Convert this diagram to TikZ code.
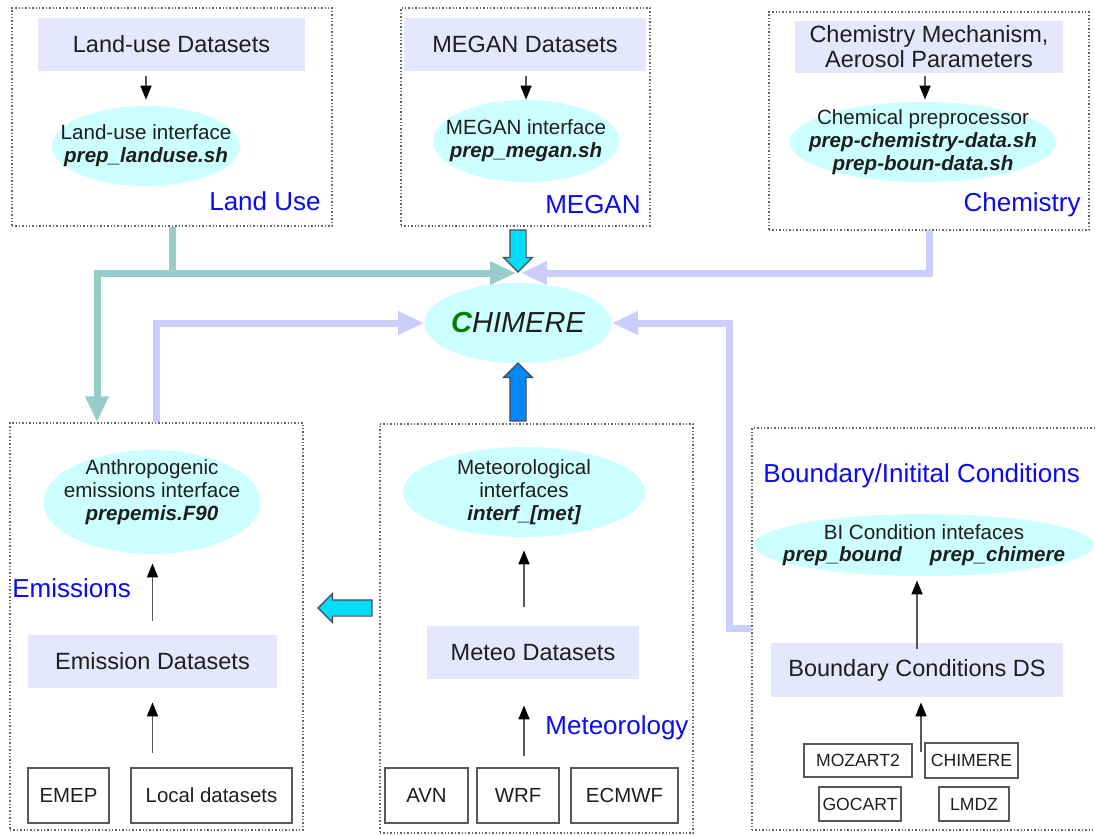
\documentclass[tikz,border=0pt]{standalone}
\usepackage{fontspec}
\setmainfont{Liberation Sans}
\usetikzlibrary{arrows.meta,shapes.geometric,shapes.arrows}

\definecolor{dsfill}{RGB}{230,230,252}
\definecolor{iffill}{RGB}{204,255,255}
\definecolor{lblue}{RGB}{10,10,245}
\definecolor{tealline}{RGB}{150,205,200}
\definecolor{lavline}{RGB}{204,204,255}
\definecolor{cyanarr}{RGB}{0,220,250}
\definecolor{bluearr}{RGB}{0,136,255}
\definecolor{cgreen}{RGB}{0,128,0}
\definecolor{txt}{RGB}{30,30,30}

\begin{document}
\begin{tikzpicture}[
  x=0.5pt, y=-0.5pt,
  grp/.style={draw=black!60, densely dotted, line width=0.7pt, inner sep=0},
  dset/.style={fill=dsfill, inner sep=0, align=center, text=txt, font=\fontsize{11.75}{12.5}\selectfont},
  iface/.style={ellipse, fill=iffill, inner sep=0},
  iftext/.style={align=center, inner sep=0, text=txt, font=\fontsize{10.3}{11.5}\selectfont},
  src/.style={draw=black!65, line width=1pt, inner sep=0, text=txt, font=\fontsize{10.2}{12}\selectfont},
  lbl/.style={inner sep=0, text=lblue, font=\fontsize{13}{15}\selectfont},
  arr/.style={draw=black!65, line width=0.8pt, -{Triangle[length=7pt,width=5.5pt,color=black]}},
  tline/.style={draw=tealline, line width=3.5pt, -{Triangle[length=13pt,width=11pt]}},
  lline/.style={draw=lavline, line width=3.5pt, -{Triangle[length=13pt,width=11pt]}},
  barr/.style={single arrow, draw=black!70, line width=0.6pt, inner xsep=0pt, inner ysep=3.75pt,
    single arrow head extend=3.25pt, single arrow tip angle=90}
]
\useasboundingbox (0,0) rectangle (1095,835);

% top row
\node[grp, minimum width=160pt, minimum height=109pt] (lubox) at (172,117) {};
\node[dset, minimum width=133.5pt, minimum height=26.5pt] (ludata) at (171.5,44.5) {Land-use Datasets};
\node[iface, minimum width=94pt, minimum height=40pt,
  label={[iftext]center:{Land-use interface\\{\bfseries\itshape prep\_landuse.sh}}}] (luif) at (146,146) {};
\node[lbl, anchor=east] (lulbl) at (321,201) {Land Use};

\node[grp, minimum width=124.5pt, minimum height=109pt] (megbox) at (525.5,117) {};
\node[dset, minimum width=121pt, minimum height=26.5pt] (megdata) at (525,44.5) {MEGAN Datasets};
\node[iface, minimum width=93pt, minimum height=41pt,
  label={[iftext]center:{MEGAN interface\\{\bfseries\itshape prep\_megan.sh}}}] (megif) at (526,141) {};
\node[lbl, anchor=east] (meglbl) at (641,205) {MEGAN};

\node[grp, minimum width=160pt, minimum height=109pt] (chbox) at (929,121) {};
\node[dset, minimum width=134pt, minimum height=26pt] (chdata) at (929,47)
  {Chemistry Mechanism,\\Aerosol Parameters};
\node[iface, minimum width=133pt, minimum height=40pt,
  label={[iftext]center:{Chemical preprocessor\\{\bfseries\itshape prep-chemistry-data.sh}\\{\bfseries\itshape prep-boun-data.sh}}}] (chif) at (923,142) {};
\node[lbl, anchor=east] (chlbl) at (1081,205) {Chemistry};

% model
\node[iface, minimum width=93.5pt, minimum height=40pt,
  label={[inner sep=0, text=txt, font=\fontsize{14.5}{16}\selectfont\itshape]center:{{\color{cgreen}\bfseries C}HIMERE}}] (chimere) at (518,323) {};

% emissions
\node[grp, minimum width=146.5pt, minimum height=203.5pt] (embox) at (156.5,626.5) {};
\node[iface, minimum width=108.5pt, minimum height=52pt,
  label={[iftext, yshift=5pt]center:{Anthropogenic\\emissions interface\\{\bfseries\itshape prepemis.F90}}}] (emif) at (152,502) {};
\node[lbl, anchor=west] (emlbl) at (12,588) {Emissions};
\node[dset, minimum width=124.5pt, minimum height=26.5pt] (emdata) at (152.5,661.5) {Emission Datasets};
\node[src, minimum width=40.5pt, minimum height=27.5pt] (emep) at (68.5,795.5) {EMEP};
\node[src, minimum width=80.5pt, minimum height=27.5pt] (local) at (211.5,795.5) {Local datasets};

% meteorology
\node[grp, minimum width=156.5pt, minimum height=204.5pt] (metbox) at (536.5,628.5) {};
\node[iface, minimum width=121pt, minimum height=45pt,
  label={[iftext]center:{Meteorological\\interfaces\\{\bfseries\itshape interf\_[met]}}}] (metif) at (524,492) {};
\node[dset, minimum width=106pt, minimum height=26.5pt] (metdata) at (533,652.5) {Meteo Datasets};
\node[lbl, anchor=west] (metlbl) at (545,728) {Meteorology};
\node[src, minimum width=41.5pt, minimum height=27.5pt] (avn) at (426.5,795.5) {AVN};
\node[src, minimum width=41pt, minimum height=27.5pt] (wrf) at (518,795.5) {WRF};
\node[src, minimum width=53.5pt, minimum height=27.5pt] (ecmwf) at (624.5,795.5) {ECMWF};

% boundary conditions
\node[grp, minimum width=174pt, minimum height=201pt] (bcbox) at (926,629) {};
\node[lbl, anchor=west] (bclbl) at (763,476) {Boundary/Initital Conditions};
\node[iface, minimum width=170pt, minimum height=31pt,
  label={[iftext, font=\fontsize{10.3}{11}\selectfont]center:{BI Condition intefaces\\{\bfseries\itshape prep\_bound}\hspace{14pt}{\bfseries\itshape prep\_chimere}}}] (bcif) at (924,545) {};
\node[dset, minimum width=146pt, minimum height=27pt] (bcdata) at (917,670) {Boundary Conditions DS};
\node[src, font=\fontsize{8.8}{10}\selectfont, minimum width=54pt, minimum height=16.5pt] (mozart) at (858,760.5) {MOZART2};
\node[src, font=\fontsize{8.8}{10}\selectfont, minimum width=46.5pt, minimum height=17.5pt] (chimsrc) at (971.5,760.5) {CHIMERE};
\node[src, font=\fontsize{8.8}{10}\selectfont, minimum width=41pt, minimum height=17pt] (gocart) at (860,804) {GOCART};
\node[src, font=\fontsize{8.8}{10}\selectfont, minimum width=35pt, minimum height=17pt] (lmdz) at (974,804) {LMDZ};

% inner arrows
\draw[arr, shorten <=2.5pt, shorten >=3pt] (luif.north |- ludata.south) -- (luif.north);
\draw[arr, shorten <=2.5pt] (megif.north |- megdata.south) -- (megif.north);
\draw[arr, shorten <=1.5pt, shorten >=1pt] ([xshift=1pt]chif.north |- chdata.south) -- ([xshift=1pt]chif.north);
\draw[arr, shorten <=7pt, shorten >=4.5pt] (emdata.north) -- (emdata.north |- emif.south);
\draw[arr, shorten <=7pt, shorten >=7pt] (emdata.south |- emep.north) -- (emdata.south);
\draw[arr, shorten <=9.5pt, shorten >=6.5pt] (metif.south |- metdata.north) -- (metif.south);
\draw[arr, shorten <=5.5pt, shorten >=13pt] (metif.south |- wrf.north) -- (metif.south |- metdata.south);
\draw[arr, shorten <=-3pt, shorten >=2pt] (bcdata.north) -- (bcdata.north |- bcif.south);
\draw[arr, shorten <=-4.5pt, shorten >=2.5pt] ([xshift=2pt]bcdata.south |- mozart.north) -- ([xshift=2pt]bcdata.south);

% connectors to the model
\coordinate (tipL) at (516,273);
\coordinate (tipR) at (521,273);
\coordinate (lujoin) at (97,273);
\draw[tline] (lubox.south) |- (lujoin) -- (embox.north -| lujoin);
\draw[tline] (lubox.south) |- (tipL);
\draw[lline] (chbox.south) |- (tipR);
\draw[lline] (embox.north) |- (chimere.west);
\draw[lline] (bcbox.west |- 0,628) -- ++(-22,0) |- (chimere.east);

% block arrows
\node[barr, fill=cyanarr, rotate=-90, minimum height=21pt] (megarr) at (518,247) {};
\node[barr, fill=bluearr, rotate=90, minimum height=29pt] (metarr) at (518,396) {};
\node[barr, fill=cyanarr, rotate=180, minimum height=27pt] (emarr) at (349,608) {};
\end{tikzpicture}
\end{document}
